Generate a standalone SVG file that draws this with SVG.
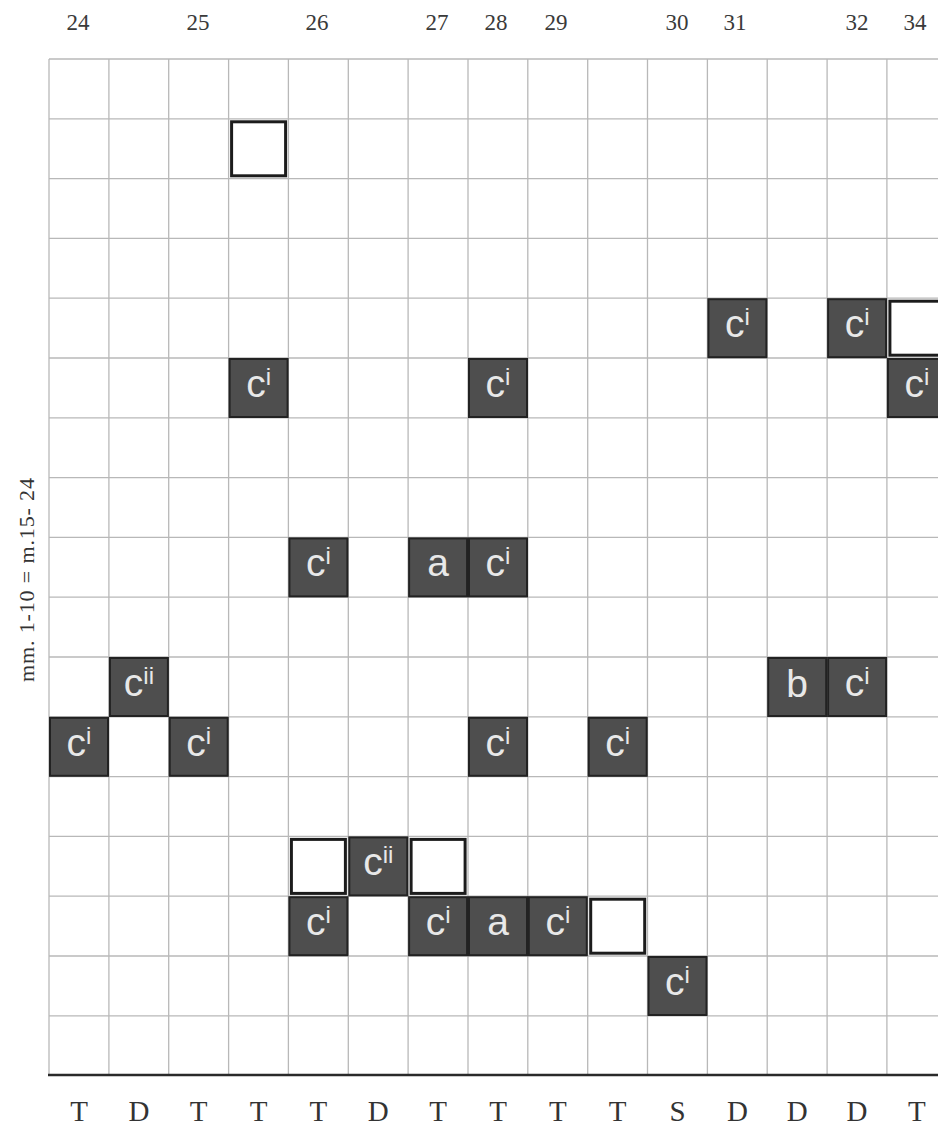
<svg xmlns="http://www.w3.org/2000/svg" width="938" height="1143" viewBox="0 0 938 1143">
<style>
.bg{fill:#fff}
.grid line{stroke:#b8b8b8;stroke-width:1.3}
.base{stroke:#2a2a2a;stroke-width:2.6}
.dark rect{fill:#4e4e4e;stroke:#222;stroke-width:2}
.empty rect{fill:#fff;stroke:#1c1c1c;stroke-width:3}
.lbl{font-family:"Liberation Sans",Arial,sans-serif;font-size:39px;fill:#e8e8e8;text-anchor:middle}
.sup{font-size:24px}
.top{font-family:"Liberation Serif","Times New Roman",serif;font-size:23px;fill:#3a3a3a;text-anchor:middle}
.bot{font-family:"Liberation Serif","Times New Roman",serif;font-size:29px;fill:#333;text-anchor:middle}
.side{font-family:"Liberation Serif","Times New Roman",serif;font-size:22px;fill:#333;text-anchor:middle}
</style>
<rect class="bg" x="0" y="0" width="938" height="1143"/>
<g id="grid" class="grid">
<line x1="49" y1="59" x2="938" y2="59"/>
<line x1="49" y1="118.8" x2="938" y2="118.8"/>
<line x1="49" y1="178.6" x2="938" y2="178.6"/>
<line x1="49" y1="238.4" x2="938" y2="238.4"/>
<line x1="49" y1="298.2" x2="938" y2="298.2"/>
<line x1="49" y1="358" x2="938" y2="358"/>
<line x1="49" y1="417.8" x2="938" y2="417.8"/>
<line x1="49" y1="477.6" x2="938" y2="477.6"/>
<line x1="49" y1="537.4" x2="938" y2="537.4"/>
<line x1="49" y1="597.2" x2="938" y2="597.2"/>
<line x1="49" y1="657" x2="938" y2="657"/>
<line x1="49" y1="716.8" x2="938" y2="716.8"/>
<line x1="49" y1="776.6" x2="938" y2="776.6"/>
<line x1="49" y1="836.4" x2="938" y2="836.4"/>
<line x1="49" y1="896.2" x2="938" y2="896.2"/>
<line x1="49" y1="956" x2="938" y2="956"/>
<line x1="49" y1="1015.8" x2="938" y2="1015.8"/>
<line x1="49" y1="59" x2="49" y2="1075"/>
<line x1="108.9" y1="59" x2="108.9" y2="1075"/>
<line x1="168.7" y1="59" x2="168.7" y2="1075"/>
<line x1="228.6" y1="59" x2="228.6" y2="1075"/>
<line x1="288.4" y1="59" x2="288.4" y2="1075"/>
<line x1="348.3" y1="59" x2="348.3" y2="1075"/>
<line x1="408.1" y1="59" x2="408.1" y2="1075"/>
<line x1="468" y1="59" x2="468" y2="1075"/>
<line x1="527.8" y1="59" x2="527.8" y2="1075"/>
<line x1="587.7" y1="59" x2="587.7" y2="1075"/>
<line x1="647.5" y1="59" x2="647.5" y2="1075"/>
<line x1="707.4" y1="59" x2="707.4" y2="1075"/>
<line x1="767.2" y1="59" x2="767.2" y2="1075"/>
<line x1="827.1" y1="59" x2="827.1" y2="1075"/>
<line x1="886.9" y1="59" x2="886.9" y2="1075"/>
</g>
<line class="base" x1="48" y1="1075" x2="938" y2="1075"/>
<g id="connectors"></g>
<g id="n-3-1" class="empty" transform="translate(228.6,118.8)"><rect x="3" y="3" width="54" height="54"/></g>
<g id="n-11-4" class="dark" transform="translate(707.4,298.2)"><rect x="1" y="1" width="58" height="58"/><text class="lbl" x="30" y="39">c<tspan class="sup" dy="-12">i</tspan></text></g>
<g id="n-13-4" class="dark" transform="translate(827.1,298.2)"><rect x="1" y="1" width="58" height="58"/><text class="lbl" x="30" y="39">c<tspan class="sup" dy="-12">i</tspan></text></g>
<g id="n-14-4" class="empty" transform="translate(886.9,298.2)"><rect x="3" y="3" width="54" height="54"/></g>
<g id="n-3-5" class="dark" transform="translate(228.6,358)"><rect x="1" y="1" width="58" height="58"/><text class="lbl" x="30" y="39">c<tspan class="sup" dy="-12">i</tspan></text></g>
<g id="n-7-5" class="dark" transform="translate(468,358)"><rect x="1" y="1" width="58" height="58"/><text class="lbl" x="30" y="39">c<tspan class="sup" dy="-12">i</tspan></text></g>
<g id="n-14-5" class="dark" transform="translate(886.9,358)"><rect x="1" y="1" width="58" height="58"/><text class="lbl" x="30" y="39">c<tspan class="sup" dy="-12">i</tspan></text></g>
<g id="n-4-8" class="dark" transform="translate(288.4,537.4)"><rect x="1" y="1" width="58" height="58"/><text class="lbl" x="30" y="39">c<tspan class="sup" dy="-12">i</tspan></text></g>
<g id="n-6-8" class="dark" transform="translate(408.1,537.4)"><rect x="1" y="1" width="58" height="58"/><text class="lbl" x="30" y="39">a</text></g>
<g id="n-7-8" class="dark" transform="translate(468,537.4)"><rect x="1" y="1" width="58" height="58"/><text class="lbl" x="30" y="39">c<tspan class="sup" dy="-12">i</tspan></text></g>
<g id="n-1-10" class="dark" transform="translate(108.9,657)"><rect x="1" y="1" width="58" height="58"/><text class="lbl" x="30" y="39">c<tspan class="sup" dy="-12">ii</tspan></text></g>
<g id="n-12-10" class="dark" transform="translate(767.2,657)"><rect x="1" y="1" width="58" height="58"/><text class="lbl" x="30" y="40">b</text></g>
<g id="n-13-10" class="dark" transform="translate(827.1,657)"><rect x="1" y="1" width="58" height="58"/><text class="lbl" x="30" y="39">c<tspan class="sup" dy="-12">i</tspan></text></g>
<g id="n-0-11" class="dark" transform="translate(49,716.8)"><rect x="1" y="1" width="58" height="58"/><text class="lbl" x="30" y="39">c<tspan class="sup" dy="-12">i</tspan></text></g>
<g id="n-2-11" class="dark" transform="translate(168.7,716.8)"><rect x="1" y="1" width="58" height="58"/><text class="lbl" x="30" y="39">c<tspan class="sup" dy="-12">i</tspan></text></g>
<g id="n-7-11" class="dark" transform="translate(468,716.8)"><rect x="1" y="1" width="58" height="58"/><text class="lbl" x="30" y="39">c<tspan class="sup" dy="-12">i</tspan></text></g>
<g id="n-9-11" class="dark" transform="translate(587.7,716.8)"><rect x="1" y="1" width="58" height="58"/><text class="lbl" x="30" y="39">c<tspan class="sup" dy="-12">i</tspan></text></g>
<g id="n-4-13" class="empty" transform="translate(288.4,836.4)"><rect x="3" y="3" width="54" height="54"/></g>
<g id="n-5-13" class="dark" transform="translate(348.3,836.4)"><rect x="1" y="1" width="58" height="58"/><text class="lbl" x="30" y="39">c<tspan class="sup" dy="-12">ii</tspan></text></g>
<g id="n-6-13" class="empty" transform="translate(408.1,836.4)"><rect x="3" y="3" width="54" height="54"/></g>
<g id="n-4-14" class="dark" transform="translate(288.4,896.2)"><rect x="1" y="1" width="58" height="58"/><text class="lbl" x="30" y="39">c<tspan class="sup" dy="-12">i</tspan></text></g>
<g id="n-6-14" class="dark" transform="translate(408.1,896.2)"><rect x="1" y="1" width="58" height="58"/><text class="lbl" x="30" y="39">c<tspan class="sup" dy="-12">i</tspan></text></g>
<g id="n-7-14" class="dark" transform="translate(468,896.2)"><rect x="1" y="1" width="58" height="58"/><text class="lbl" x="30" y="39">a</text></g>
<g id="n-8-14" class="dark" transform="translate(527.8,896.2)"><rect x="1" y="1" width="58" height="58"/><text class="lbl" x="30" y="39">c<tspan class="sup" dy="-12">i</tspan></text></g>
<g id="n-9-14" class="empty" transform="translate(587.7,896.2)"><rect x="3" y="3" width="54" height="54"/></g>
<g id="n-10-15" class="dark" transform="translate(647.5,956)"><rect x="1" y="1" width="58" height="58"/><text class="lbl" x="30" y="39">c<tspan class="sup" dy="-12">i</tspan></text></g>
<g id="top-labels">
<text class="top" x="78" y="30">24</text>
<text class="top" x="198" y="30">25</text>
<text class="top" x="317" y="30">26</text>
<text class="top" x="437" y="30">27</text>
<text class="top" x="496" y="30">28</text>
<text class="top" x="556" y="30">29</text>
<text class="top" x="677" y="30">30</text>
<text class="top" x="735" y="30">31</text>
<text class="top" x="857" y="30">32</text>
<text class="top" x="915" y="30">34</text>
</g>
<g id="bottom-labels">
<text class="bot" x="79" y="1121">T</text>
<text class="bot" x="138.9" y="1121">D</text>
<text class="bot" x="198.7" y="1121">T</text>
<text class="bot" x="258.6" y="1121">T</text>
<text class="bot" x="318.4" y="1121">T</text>
<text class="bot" x="378.3" y="1121">D</text>
<text class="bot" x="438.1" y="1121">T</text>
<text class="bot" x="498" y="1121">T</text>
<text class="bot" x="557.8" y="1121">T</text>
<text class="bot" x="617.7" y="1121">T</text>
<text class="bot" x="677.5" y="1121">S</text>
<text class="bot" x="737.4" y="1121">D</text>
<text class="bot" x="797.2" y="1121">D</text>
<text class="bot" x="857.1" y="1121">D</text>
<text class="bot" x="916.9" y="1121">T</text>
</g>
<g id="side-label">
<text class="side" transform="translate(34,580) rotate(-90)" x="0" y="0" textLength="204" lengthAdjust="spacing">mm. 1-10 = m.15- 24</text>
</g>
</svg>
